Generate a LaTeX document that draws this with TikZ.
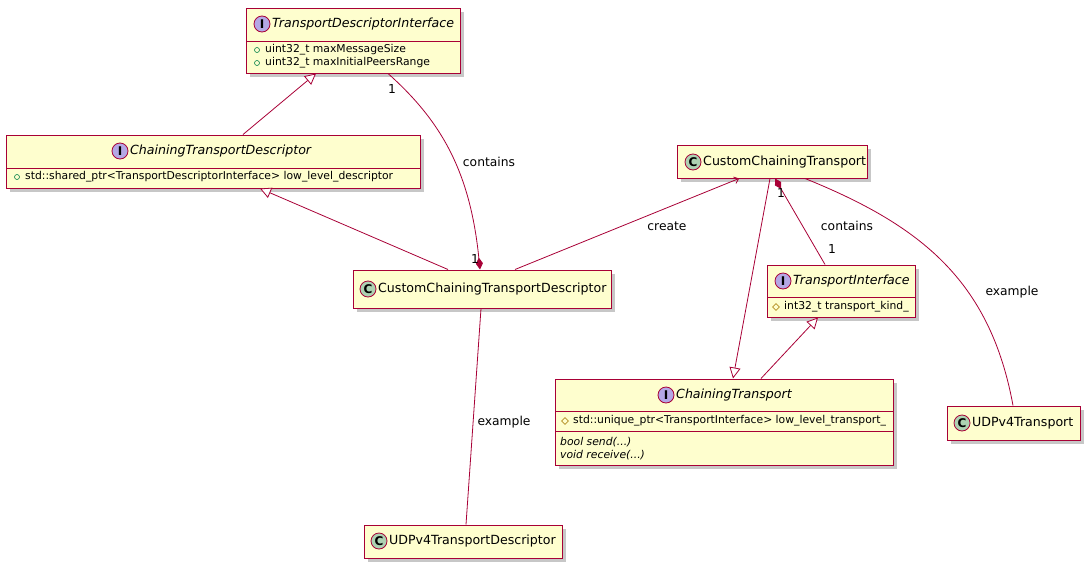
\documentclass[tikz,border=0pt]{standalone}
\usepackage{fontspec}
\setmainfont{DejaVu Sans}
\usetikzlibrary{arrows.meta,shapes.geometric}
\definecolor{ln}{HTML}{A80036}
\definecolor{bx}{HTML}{FEFECE}
\definecolor{cc}{HTML}{ADD1B2}
\definecolor{ic}{HTML}{B4A7E5}
\definecolor{pub}{HTML}{038048}
\definecolor{prot}{HTML}{B38D22}
\tikzset{
  box/.style={draw=ln, fill=bx, line width=1pt, inner sep=0},
  sep/.style={draw=ln, line width=1pt},
  shadow/.style={fill=black!22},
  icon/.style={circle, draw=ln, line width=0.8pt, minimum size=16pt, inner sep=0, font=\bfseries\fontsize{12}{12}\selectfont},
  cls/.style={icon, fill=cc},
  ifc/.style={icon, fill=ic},
  title/.style={anchor=west, inner sep=1pt, font=\fontsize{12.6}{14}\selectfont},
  ititle/.style={title, font=\fontsize{12.6}{14}\selectfont\itshape},
  mem/.style={anchor=west, inner sep=0, font=\fontsize{10.8}{13}\selectfont},
  imem/.style={mem, font=\fontsize{10.8}{13}\selectfont\itshape},
  pubm/.style={circle, draw=pub, line width=0.6pt, minimum size=5pt, inner sep=0},
  protm/.style={diamond, draw=prot, line width=0.6pt, minimum size=7pt, inner sep=0},
  edge/.style={draw=ln, line width=0.8pt},
  inh/.style={edge, -{Triangle[open, width=11pt, length=11pt, fill=white]}},
  comp/.style={edge, -{Diamond[width=7pt, length=12pt]}},
  lbl/.style={inner sep=1pt, font=\fontsize{12.3}{14}\selectfont},
}
\newcommand\ubox[5]{%
  \fill[shadow] (#2+4,#3+4) rectangle (#4+4,#5+4);
  \node[box, minimum width={#4-#2}, minimum height={#5-#3}] (#1) at ({(#2+#4)/2},{(#3+#5)/2}) {};}
\begin{document}
\begin{tikzpicture}[x=1pt,y=-1pt]
\useasboundingbox (0,0) rectangle (1090,568);
% boxes
\ubox{tdi}{246}{8}{460}{73}
\ubox{ctd}{6}{135}{420}{188}
\ubox{cctd}{353}{270}{611}{308}
\ubox{cct}{677}{145}{867}{178}
\ubox{ti}{767}{265}{915}{317}
\ubox{ct}{555}{379}{893}{465}
\ubox{udp}{947}{406}{1080}{440}
\ubox{udpd}{364}{525}{562}{558}
\draw[sep] (246,41) -- (460,41);
\draw[sep] (6,168) -- (420,168);
\draw[sep] (767,297) -- (915,297);
\draw[sep] (555,411) -- (893,411);
\draw[sep] (555,431) -- (893,431);
% headers
\node[ifc] (i1) at (262,24) {I}; \node[ititle] (t1) at (271,24) {TransportDescriptorInterface};
\node[ifc] (i2) at (120,151) {I}; \node[ititle] (t2) at (129,151) {ChainingTransportDescriptor};
\node[cls] (i3) at (368,289) {C}; \node[title] (t3) at (377,289) {CustomChainingTransportDescriptor};
\node[cls] (i4) at (693,162) {C}; \node[title] (t4) at (702,162) {CustomChainingTransport};
\node[ifc] (i5) at (783,281) {I}; \node[ititle] (t5) at (792,281) {TransportInterface};
\node[ifc] (i6) at (666,395) {I}; \node[ititle] (t6) at (675,395) {ChainingTransport};
\node[cls] (i7) at (962,423) {C}; \node[title] (t7) at (971,423) {UDPv4Transport};
\node[cls] (i8) at (379,541) {C}; \node[title] (t8) at (388,541) {UDPv4TransportDescriptor};
% members
\node[pubm] (m1) at (257,50) {}; \node[mem] (n1) at (265,50) {uint32\_t maxMessageSize};
\node[pubm] (m2) at (257,63) {}; \node[mem] (n2) at (265,63) {uint32\_t maxInitialPeersRange};
\node[pubm] (m3) at (17,177) {}; \node[mem] (n3) at (25,177) {std::shared\_ptr<TransportDescriptorInterface> low\_level\_descriptor};
\node[protm] (m4) at (776,307) {}; \node[mem] (n4) at (784,307) {int32\_t transport\_kind\_};
\node[protm] (m5) at (565,421) {}; \node[mem] (n5) at (573,421) {std::unique\_ptr<TransportInterface> low\_level\_transport\_};
\node[imem] (n6) at (560,442) {bool send(...)};
\node[imem] (n7) at (560,455) {void receive(...)};
% connectors
\draw[inh] (ctd.north -| 243,0) -- (tdi.south -| 316,0);
\draw[inh] (cctd.north -| 448,0) -- (ctd.south -| 260,0);
\draw[comp] (tdi.south -| 388,0) .. controls (440,120) and (470,170) .. (cctd.north -| 480,0);
\node[lbl] (l1) at (392,89) {1};
\node[lbl] (l2) at (475,259) {1};
\node[lbl] (l3) at (489,162) {contains};
\draw[edge, -{Straight Barb[length=4pt, width=7pt]}] (cctd.north -| 515,0) -- (cct.south -| 739,0);
\node[lbl] (l4) at (667,226) {create};
\draw[inh] (cct.south -| 770,0) -- (ct.north -| 733,0);
\draw[comp] (ti.north -| 825,0) -- (cct.south -| 775,0);
\node[lbl] (l5) at (781,193) {1};
\node[lbl] (l6) at (832,249) {1};
\node[lbl] (l7) at (847,226) {contains};
\draw[inh] (ct.north -| 761,0) -- (ti.south -| 818,0);
\draw[edge] (cct.south -| 805,0) .. controls (920,225) and (990,280) .. (udp.north -| 1013,0);
\node[lbl] (l8) at (1012,292) {example};
\draw[edge] (cctd.south -| 481,0) -- (udpd.north -| 466,0);
\node[lbl] (l9) at (504,422) {example};
\end{tikzpicture}
\end{document}
